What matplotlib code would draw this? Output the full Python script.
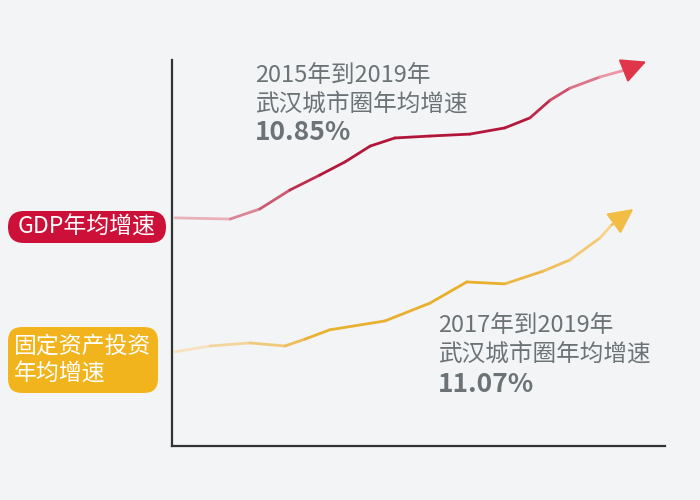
import matplotlib
matplotlib.use("Agg")
import matplotlib.pyplot as plt
import numpy as np
from matplotlib.collections import LineCollection
from matplotlib.colors import LinearSegmentedColormap
from matplotlib.patches import FancyBboxPatch

plt.rcParams['font.family'] = ['Noto Sans CJK SC', 'DejaVu Sans']

# series (axis units 0-100, no ticks shown)
gdp_x = [0.6, 11.8, 17.8, 23.9, 30.0, 35.1, 40.2, 45.2, 52.3, 60.4, 67.5, 72.6, 76.7, 80.7, 86.8, 91.9, 96.2]
gdp_y = [59.1, 58.8, 61.4, 66.3, 70.2, 73.6, 77.7, 79.8, 80.3, 80.8, 82.4, 85.0, 89.6, 92.7, 95.6, 97.4, 99.6]

inv_x = [0.6, 7.7, 15.8, 22.9, 27.0, 32.0, 43.2, 52.3, 59.8, 67.5, 75.3, 80.7, 86.8, 89.2, 93.6]
inv_y = [24.4, 25.9, 26.7, 25.9, 27.7, 30.1, 32.4, 37.0, 42.5, 42.0, 45.3, 48.2, 53.9, 57.3, 61.4]

gdp_label = "GDP年均增速"
inv_label = "固定资产投资\n年均增速"
gdp_note = ["2015年到2019年", "武汉城市圈年均增速", "10.85%"]
inv_note = ["2017年到2019年", "武汉城市圈年均增速", "11.07%"]

BG = "#f3f4f6"
TXT = "#6b7377"
RED = "#cc1038"
YEL = "#f2b41c"

fig = plt.figure(figsize=(7, 5), dpi=100, facecolor=BG)
ax = fig.add_axes([172 / 700, 54 / 500, 493 / 700, 386 / 500])
ax.set_facecolor(BG)
ax.set_xlim(0, 100)
ax.set_ylim(0, 100)
ax.set_xticks([])
ax.set_yticks([])
for s in ["top", "right"]:
    ax.spines[s].set_visible(False)
for s in ["left", "bottom"]:
    ax.spines[s].set_color("#2f3333")
    ax.spines[s].set_linewidth(1.6)


def gradient_line(x, y, colors, head_color):
    pts = np.column_stack([x[:-1], y[:-1]])
    segs = np.stack([pts[:-1], pts[1:]], axis=1)
    cmap = LinearSegmentedColormap.from_list("g", colors)
    lc = LineCollection(segs, colors=cmap(np.linspace(0, 1, len(segs))),
                        linewidth=2.0, capstyle="round", joinstyle="round")
    ax.add_collection(lc)
    ax.annotate("", xy=(x[-1], y[-1]), xytext=(x[-2], y[-2]),
                arrowprops=dict(arrowstyle="-|>,head_length=1.1,head_width=0.55",
                                color=head_color, lw=1.6, mutation_scale=14,
                                shrinkA=0, shrinkB=0))


gradient_line(gdp_x, gdp_y, ["#eab0b8", "#b5173d", "#b01638", "#b5173d", "#eb98a4"], "#e0364a")
gradient_line(inv_x, inv_y, ["#f7e2c0", "#e9b232", "#e8ae2c", "#f6d28a"], "#f2bd45")

# annotations
for i, (xx, yy) in enumerate([(16.8, 96.1), (16.8, 88.6), (16.8, 81.1)]):
    bold = i == 2
    ax.text(xx, yy, gdp_note[i], color=TXT, fontsize=19 if bold else 17,
            fontweight="bold" if bold else "normal", va="center", ha="left")
for i, (xx, yy) in enumerate([(54.0, 31.3), (54.0, 23.8), (54.0, 16.0)]):
    bold = i == 2
    ax.text(xx, yy, inv_note[i], color=TXT, fontsize=19 if bold else 17,
            fontweight="bold" if bold else "normal", va="center", ha="left")

# left label boxes on an overlay in pixel units
ov = fig.add_axes([0, 0, 1, 1], zorder=-1)
ov.set_xlim(0, 700)
ov.set_ylim(500, 0)
ov.axis("off")
ov.add_patch(FancyBboxPatch((8, 327), 150, 66, boxstyle="round,pad=0,rounding_size=14",
                            facecolor=YEL, edgecolor="none"))
ov.add_patch(FancyBboxPatch((8, 211), 158, 32, boxstyle="round,pad=0,rounding_size=16",
                            facecolor=RED, edgecolor="none"))
ov.text(87, 227, gdp_label, color="white", fontsize=16.5, ha="center", va="center",
        fontweight="medium")
ov.text(14, 360, inv_label, color="white", fontsize=16.5, ha="left", va="center",
        linespacing=1.25, fontweight="medium")

fig.savefig("out.png", dpi=100, facecolor=BG)
